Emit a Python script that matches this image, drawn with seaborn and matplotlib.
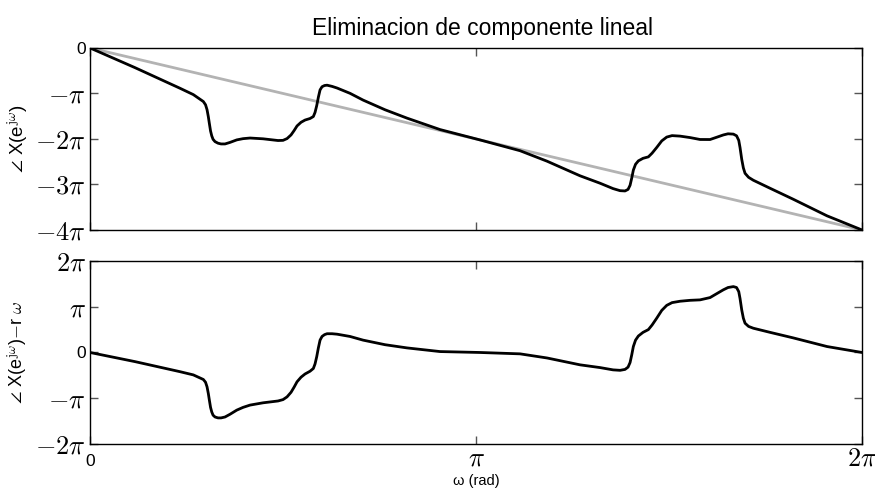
import numpy as np
import pandas as pd
import matplotlib
matplotlib.use("Agg")
import matplotlib.pyplot as plt
import seaborn as sns

# frequency (in units of pi)
omega = [0.0, 0.1166, 0.2332, 0.2676, 0.2935, 0.2992, 0.3031, 0.3065, 0.3091, 0.3122,
         0.3153, 0.3187, 0.3238, 0.3316, 0.3394, 0.3497, 0.3627, 0.3801, 0.3964, 0.4145,
         0.4482, 0.4870, 0.5000, 0.5104, 0.5207, 0.5285, 0.5363, 0.5466, 0.5570, 0.5699,
         0.5785, 0.5829, 0.5873, 0.5915, 0.5959, 0.6010, 0.6075, 0.6140, 0.6269, 0.6399,
         0.6736, 0.7073, 0.7642, 0.8212, 0.9067, 1.0104, 1.1140, 1.1839, 1.2694, 1.3212,
         1.3549, 1.3731, 1.3860, 1.3938, 1.3990, 1.4034, 1.4075, 1.4132, 1.4205, 1.4326,
         1.4464, 1.4560, 1.4681, 1.4811, 1.4940, 1.5078, 1.5285, 1.5544, 1.5803, 1.6062,
         1.6244, 1.6407, 1.6528, 1.6666, 1.6749, 1.6806, 1.6839, 1.6883, 1.6925, 1.6969,
         1.7060, 1.7184, 1.7617, 1.8212, 1.9093, 2.0]

# unwrapped phase (in units of pi)
phase = [0.0, -0.433, -0.886, -1.025, -1.177, -1.248, -1.356, -1.513, -1.658, -1.824,
         -1.931, -2.007, -2.058, -2.093, -2.109, -2.109, -2.075, -2.020, -1.993, -1.979,
         -1.996, -2.034, -2.030, -1.991, -1.911, -1.817, -1.713, -1.633, -1.584, -1.550,
         -1.507, -1.416, -1.265, -1.083, -0.922, -0.852, -0.825, -0.818, -0.844, -0.880,
         -0.997, -1.145, -1.358, -1.542, -1.793, -2.021, -2.258, -2.488, -2.809, -2.972,
         -3.090, -3.136, -3.142, -3.108, -3.018, -2.857, -2.685, -2.556, -2.481, -2.425,
         -2.393, -2.312, -2.186, -2.042, -1.958, -1.926, -1.937, -1.969, -2.011, -2.012,
         -1.959, -1.911, -1.886, -1.893, -1.930, -2.031, -2.188, -2.447, -2.635, -2.754,
         -2.842, -2.907, -3.083, -3.322, -3.689, -4.0]

# phase after removing linear component (in units of pi)
residual = [0.0, -0.20, -0.42, -0.49, -0.59, -0.65, -0.75, -0.90, -1.04, -1.20,
            -1.30, -1.37, -1.41, -1.43, -1.43, -1.41, -1.35, -1.26, -1.20, -1.15,
            -1.10, -1.06, -1.03, -0.97, -0.87, -0.76, -0.64, -0.54, -0.47, -0.41,
            -0.35, -0.25, -0.09, 0.10, 0.27, 0.35, 0.39, 0.41, 0.41, 0.40,
            0.35, 0.27, 0.17, 0.10, 0.02, 0.0, -0.03, -0.12, -0.27, -0.33,
            -0.38, -0.39, -0.37, -0.32, -0.22, -0.05, 0.13, 0.27, 0.36, 0.44,
            0.50, 0.60, 0.75, 0.92, 1.03, 1.09, 1.12, 1.14, 1.15, 1.20,
            1.29, 1.37, 1.42, 1.44, 1.42, 1.33, 1.18, 0.93, 0.75, 0.64,
            0.57, 0.53, 0.44, 0.32, 0.13, 0.0]

# linear component endpoints
lin_omega = [0.0, 2.0]
lin_phase = [0.0, -4.0]

sns.set_theme(style="white")
plt.rcParams["mathtext.fontset"] = "cm"
plt.rcParams["font.family"] = ["Liberation Sans", "DejaVu Sans"]
plt.rcParams["text.color"] = "black"

fig = plt.figure(figsize=(8.75, 4.88), dpi=100)
ax1 = fig.add_axes([0.1029, 0.5287, 0.8823, 0.3730])
ax2 = fig.add_axes([0.1029, 0.0902, 0.8823, 0.3750])

df = pd.DataFrame({"w": omega, "p": phase, "r": residual})
dl = pd.DataFrame({"w": lin_omega, "p": lin_phase})

sns.lineplot(data=dl, x="w", y="p", ax=ax1, color="#b3b3b3", lw=2.0, estimator=None)
sns.lineplot(data=df, x="w", y="p", ax=ax1, color="black", lw=2.0, estimator=None,
             sort=False, solid_joinstyle="round")
sns.lineplot(data=df, x="w", y="r", ax=ax2, color="black", lw=2.0, estimator=None,
             sort=False, solid_joinstyle="round")

for ax in (ax1, ax2):
    ax.set_xlim(0, 2)
    ax.set_xticks([0, 1, 2])
    for s in ax.spines.values():
        s.set_color("black")
        s.set_linewidth(1.0)
    ax.tick_params(direction="in", length=6, width=1, color="#555555",
                   top=True, right=True, bottom=True, left=True, pad=3)
    ax.set_xlabel("")

ax2.tick_params(axis="x", pad=15.5)

ax1.set_ylim(-4, 0)
ax1.set_yticks([-4, -3, -2, -1, 0])
ax1.set_yticklabels([r"$-4\pi$", r"$-3\pi$", r"$-2\pi$", r"$-\pi$", "0"])
ax1.set_xticklabels([])

ax2.set_ylim(-2, 2)
ax2.set_yticks([-2, -1, 0, 1, 2])
ax2.set_yticklabels([r"$-2\pi$", r"$-\pi$", "0", r"$\pi$", r"$2\pi$"])
ax2.set_xticklabels(["0", r"$\pi$", r"$2\pi$"])

for ax in (ax1, ax2):
    for lab in ax.get_yticklabels() + ax.get_xticklabels():
        t = lab.get_text()
        lab.set_fontsize(19 if "pi" in t else 12.5)
        lab.set_color("black")
for lab in ax2.get_xticklabels():
    lab.set_verticalalignment("baseline")

ax1.set_ylabel(r"$\angle$ X(e$^{\mathrm{j}\omega}$)", fontsize=13.5, color="black")
ax2.set_ylabel(r"$\angle$ X(e$^{\mathrm{j}\omega}$)$-$r $\omega$", fontsize=13, color="black")
ax1.yaxis.set_label_coords(-0.078, 0.5)
ax2.yaxis.set_label_coords(-0.078, 0.5)

fig.text(0.544, 0.0143, "ω (rad)", ha="center", va="center", fontsize=10.5, color="black")
fig.text(0.551, 0.942, "Eliminacion de componente lineal", ha="center", va="center",
         fontsize=16.5, color="black")

fig.savefig("out.png", dpi=100)
